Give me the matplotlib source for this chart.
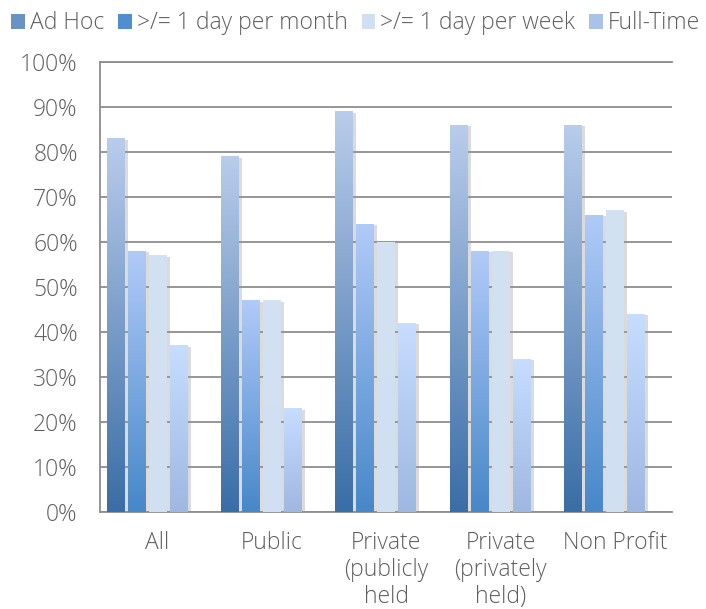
import numpy as np
import matplotlib
matplotlib.use("Agg")
import matplotlib.pyplot as plt
from matplotlib.colors import to_rgb
from matplotlib.patches import Patch
from matplotlib import patheffects as pe

categories = ["All", "Public", "Private\n(publicly\nheld", "Private\n(privately\nheld)", "Non Profit"]
series = ["Ad Hoc", ">/= 1 day per month", ">/= 1 day per week", "Full-Time"]
ad_hoc = [83, 79, 89, 86, 86]
per_month = [58, 47, 64, 58, 66]
per_week = [57, 47, 60, 58, 67]
full_time = [37, 23, 42, 34, 44]
values = [ad_hoc, per_month, per_week, full_time]

# (top, bottom) gradient colours per series
grads = [("#b8cceb", "#3a6ea6"),
         ("#b0caf8", "#4788c9"),
         ("#d2e2f3", "#d0e0f2"),
         ("#c6ddff", "#9fb8e2")]
legend_cols = ["#6a93c4", "#4f8fd0", "#d0e0f2", "#a9c2ea"]

plt.rcParams["font.family"] = ["Open Sans", "DejaVu Sans"]
plt.rcParams["font.weight"] = "light"
text_col = "#5e5e5e"
grid_col = "#8e8e8e"

fig = plt.figure(figsize=(7.06, 6.09), dpi=100)
ax = fig.add_axes([0.1416, 0.1598, 0.8104, 0.7389])

n = len(categories)
width = 0.153
step = 0.1836
offset = 0.058
for j, (vals, (top, bot)) in enumerate(zip(values, grads)):
    x = np.arange(n) + offset + j * step
    bars = ax.bar(x, np.array(vals) / 100, width=width, align="edge",
                  color=bot, zorder=3, linewidth=0)
    grad = np.linspace(0, 1, 64)[:, None, None]
    img = (1 - grad) * np.array(to_rgb(top)) + grad * np.array(to_rgb(bot))
    for b in bars:
        b.set_path_effects([pe.SimplePatchShadow(offset=(2.5, -1), shadow_rgbFace="#9a9a9a", alpha=0.35),
                            pe.Normal()])
        im = ax.imshow(img, extent=(b.get_x(), b.get_x() + b.get_width(), 0, b.get_height()),
                       aspect="auto", zorder=4, interpolation="bilinear")
        im.set_clip_path(b)

ax.set_xlim(0, n)
ax.set_ylim(0, 1)
ax.set_yticks(np.arange(0, 1.01, 0.1))
ax.set_yticklabels([f"{int(round(v * 100))}%" for v in np.arange(0, 1.01, 0.1)])
ax.set_xticks(np.arange(n) + 0.5)
ax.set_xticklabels(categories, linespacing=1.15)
ax.tick_params(axis="y", length=0, pad=16, labelsize=16.5, labelcolor=text_col)
ax.tick_params(axis="x", length=0, pad=14, labelsize=16.5, labelcolor=text_col)
ax.yaxis.grid(True, color=grid_col, linewidth=1.3, zorder=1)
ax.set_axisbelow(True)
for s in ["left", "bottom", "top"]:
    ax.spines[s].set_color(grid_col)
    ax.spines[s].set_linewidth(1.3)
ax.spines["right"].set_visible(False)

handles = [Patch(facecolor=c, edgecolor="none") for c in legend_cols]
fig.legend(handles, series, loc="upper left", bbox_to_anchor=(0.0, 1.0), ncol=4,
           frameon=False, fontsize=16.5, handlelength=0.6, handleheight=0.6,
           handletextpad=0.2, columnspacing=0.62, borderaxespad=0.1,
           labelcolor=text_col)

fig.savefig("out.png", dpi=100)
